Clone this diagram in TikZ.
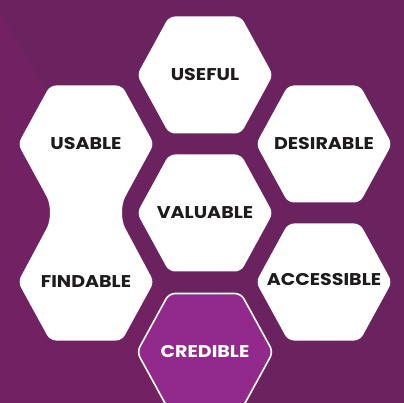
\documentclass[tikz,border=0pt]{standalone}
\usepackage{fontspec}
\setmainfont{Poppins}[FakeStretch=1.12]
\definecolor{bgdark}{HTML}{6B2360}
\definecolor{bglight}{HTML}{722262}
\definecolor{credfill}{HTML}{922A8C}
\definecolor{txt}{HTML}{1E1B1C}
\newcommand{\hexat}[2]{(#1-68,#2) -- (#1-36,#2-58.5) -- (#1+36,#2-58.5) -- (#1+68,#2) -- (#1+36,#2+58.5) -- (#1-36,#2+58.5) -- cycle}
\begin{document}
\begin{tikzpicture}[x=1pt,y=-1pt,
  hexfill/.style={fill=white,rounded corners=6pt},
  lbl/.style={font=\fontsize{17}{17}\selectfont\bfseries,text=txt,inner sep=0pt},
  credlbl/.style={lbl,text=white}]
\useasboundingbox (0,0) rectangle (404,403);
\fill[bgdark] (0,0) rectangle (404,403);
\fill[bglight] (0,13) -- (45,88) -- (227,403) -- (0,403) -- cycle;
% hexagons
\fill[hexfill] \hexat{205}{75};
\fill[hexfill] \hexat{324}{144};
\fill[hexfill] \hexat{205}{213};
\fill[hexfill] \hexat{324}{282};
% merged usable / findable
\fill[hexfill] (18,144) -- (50,85.5) -- (122,85.5) -- (154,144) -- (127.8,192)
  .. controls (121,205) and (121,220) .. (127.8,233) -- (154,282) -- (122,340.5)
  -- (50,340.5) -- (18,282) -- (44.2,233)
  .. controls (51,220) and (51,205) .. (44.2,192) -- cycle;
% credible
\filldraw[fill=credfill,draw=white,line width=1.6pt,rounded corners=6pt] \hexat{205}{352};
% labels
\node[lbl] (useful) at (205,75) {USEFUL};
\node[lbl] (usable) at (86,144) {USABLE};
\node[lbl] (desirable) at (324,144) {DESIRABLE};
\node[lbl] (valuable) at (205,213) {VALUABLE};
\node[lbl] (findable) at (86,282) {FINDABLE};
\node[lbl] (accessible) at (324,280) {ACCESSIBLE};
\node[credlbl] (credible) at (205,352) {CREDIBLE};
\end{tikzpicture}
\end{document}
